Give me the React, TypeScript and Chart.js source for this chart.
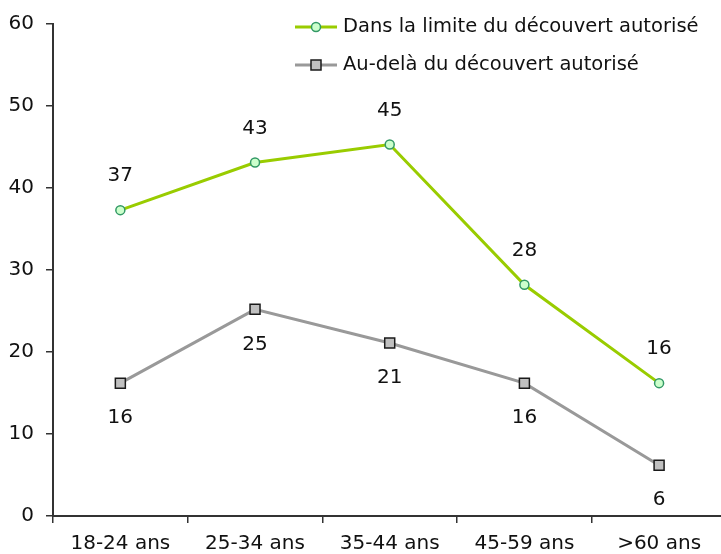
import React, { useEffect, useRef } from "react";
import { Chart, registerables } from "chart.js";

Chart.register(...registerables);

const categories = ["18-24 ans", "25-34 ans", "35-44 ans", "45-59 ans", ">60 ans"];
const withinLimit = [37.3, 43.1, 45.3, 28.2, 16.2];
const beyondLimit = [16.2, 25.2, 21.1, 16.2, 6.2];
const withinLabels = ["37", "43", "45", "28", "16"];
const beyondLabels = ["16", "25", "21", "16", "6"];
const seriesNames = ["Dans la limite du découvert autorisé", "Au-delà du découvert autorisé"];
const yTicks = [0, 10, 20, 30, 40, 50, 60];

const FONT = "'DejaVu Sans', Verdana, sans-serif";
const CANVAS_W = 735;
const CANVAS_H = 554;

const dataLabelPlugin = {
  id: "dataLabels",
  afterDatasetsDraw(chart: any) {
    const ctx = chart.ctx;
    ctx.save();
    ctx.font = `20px ${FONT}`;
    ctx.fillStyle = "#111";
    ctx.textAlign = "center";
    ctx.textBaseline = "middle";
    chart.data.datasets.forEach((ds: any, i: number) => {
      const meta = chart.getDatasetMeta(i);
      const labels: string[] = ds.valueLabels;
      const off = ds.labelBelow ? 35 : -34;
      meta.data.forEach((pt: any, j: number) => {
        ctx.fillText(labels[j], pt.x, pt.y + off);
      });
    });
    ctx.restore();
  },
};

const legendPlugin = {
  id: "customLegend",
  afterDraw(chart: any) {
    const ctx = chart.ctx;
    ctx.save();
    const x0 = 295;
    const x1 = 337;
    const rows = [27, 65];
    chart.data.datasets.forEach((ds: any, i: number) => {
      const y = rows[i];
      ctx.strokeStyle = ds.borderColor;
      ctx.lineWidth = ds.borderWidth;
      ctx.beginPath();
      ctx.moveTo(x0, y);
      ctx.lineTo(x1, y);
      ctx.stroke();
      ctx.fillStyle = ds.pointBackgroundColor;
      ctx.strokeStyle = ds.pointBorderColor;
      ctx.lineWidth = ds.pointBorderWidth;
      const cx = (x0 + x1) / 2;
      if (ds.pointStyle === "rect") {
        ctx.beginPath();
        ctx.rect(cx - 5, y - 5, 10, 10);
        ctx.fill();
        ctx.stroke();
      } else {
        ctx.beginPath();
        ctx.arc(cx, y, ds.pointRadius, 0, Math.PI * 2);
        ctx.fill();
        ctx.stroke();
      }
      ctx.fillStyle = "#111";
      ctx.font = `19.5px ${FONT}`;
      ctx.textAlign = "left";
      ctx.textBaseline = "middle";
      ctx.fillText(ds.label, 343, y);
    });
    ctx.restore();
  },
};

export default function App() {
  const ref = useRef<HTMLCanvasElement | null>(null);

  useEffect(() => {
    const canvas = ref.current;
    if (!canvas) return;
    const chart = new Chart(canvas, {
      type: "line",
      data: {
        labels: categories,
        datasets: [
          {
            label: seriesNames[0],
            data: withinLimit,
            borderColor: "#99cc00",
            borderWidth: 3,
            pointStyle: "circle",
            pointRadius: 4.5,
            pointBackgroundColor: "#ccffcc",
            pointBorderColor: "#339966",
            pointBorderWidth: 1.5,
            tension: 0,
            valueLabels: withinLabels,
            labelBelow: false,
          } as any,
          {
            label: seriesNames[1],
            data: beyondLimit,
            borderColor: "#999999",
            borderWidth: 3,
            pointStyle: "rect",
            pointRadius: 7.07,
            pointBackgroundColor: "#c0c0c0",
            pointBorderColor: "#1a1a1a",
            pointBorderWidth: 1.5,
            tension: 0,
            valueLabels: beyondLabels,
            labelBelow: true,
          } as any,
        ],
      },
      options: {
        animation: false,
        responsive: false,
        devicePixelRatio: 1,
        layout: { padding: { left: 0, right: 4, top: 22, bottom: 0 } },
        plugins: {
          legend: { display: false },
          tooltip: { enabled: false },
        },
        scales: {
          x: {
            type: "category",
            offset: true,
            grid: {
              offset: true,
              drawOnChartArea: false,
              drawTicks: true,
              tickLength: 7,
              color: "#333",
              lineWidth: 1.5,
            },
            border: { display: true, color: "#333", width: 2 },
            ticks: {
              color: "#111",
              font: { family: FONT, size: 20 },
              padding: 9,
              maxRotation: 0,
              autoSkip: false,
            },
            afterFit: (scale: any) => {
              scale.height = 38;
            },
          },
          y: {
            min: 0,
            max: 60,
            afterBuildTicks: (scale: any) => {
              scale.ticks = yTicks.map((v) => ({ value: v }));
            },
            grid: {
              drawOnChartArea: false,
              drawTicks: true,
              tickLength: 7,
              color: "#333",
              lineWidth: 1.5,
            },
            border: { display: true, color: "#333", width: 2 },
            ticks: {
              color: "#111",
              font: { family: FONT, size: 20 },
              padding: 12,
            },
            afterFit: (scale: any) => {
              scale.width = 53;
            },
          },
        },
      } as any,
      plugins: [dataLabelPlugin, legendPlugin],
    });
    return () => chart.destroy();
  }, []);

  return (
    <div
      style={{
        position: "fixed",
        left: 0,
        top: 0,
        width: 721,
        height: 554,
        overflow: "hidden",
        background: "#fff",
      }}
    >
      <canvas
        ref={ref}
        width={CANVAS_W}
        height={CANVAS_H}
        style={{ width: CANVAS_W, height: CANVAS_H, display: "block" }}
      />
    </div>
  );
}
